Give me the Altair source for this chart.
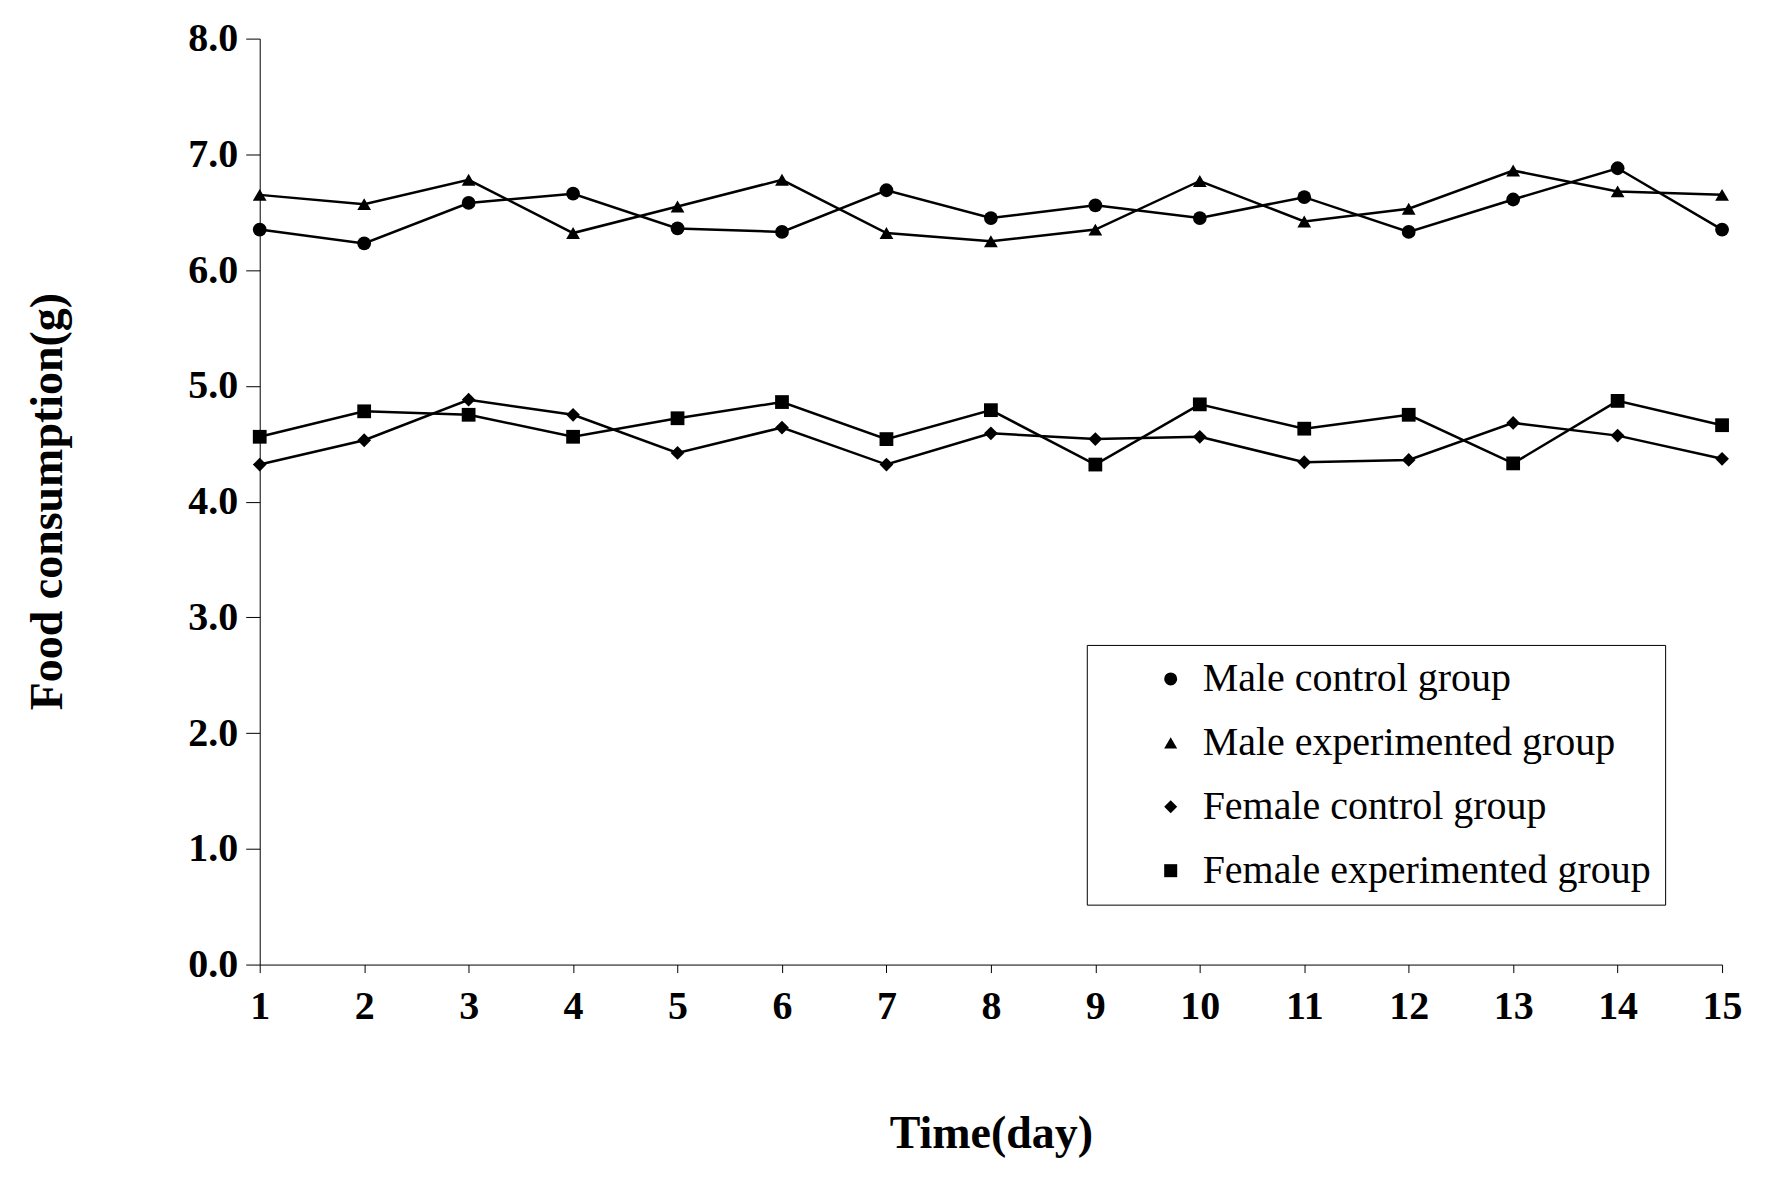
import altair as alt
import pandas as pd

days = list(range(1, 16))
male_control = [6.35, 6.23, 6.58, 6.66, 6.36, 6.33, 6.69, 6.45, 6.56, 6.45, 6.63, 6.33, 6.61, 6.88, 6.35]
male_exp = [6.65, 6.57, 6.78, 6.32, 6.55, 6.78, 6.32, 6.25, 6.35, 6.77, 6.42, 6.53, 6.86, 6.68, 6.65]
female_control = [4.32, 4.53, 4.88, 4.75, 4.42, 4.64, 4.32, 4.59, 4.54, 4.56, 4.34, 4.36, 4.68, 4.57, 4.37]
female_exp = [4.56, 4.78, 4.75, 4.56, 4.72, 4.86, 4.54, 4.79, 4.32, 4.84, 4.63, 4.75, 4.33, 4.87, 4.66]
groups = ["Male control group", "Male experimented group", "Female control group", "Female experimented group"]
shapes = ["circle", "triangle-up", "diamond", "square"]

rows = []
for g, vals in zip(groups, [male_control, male_exp, female_control, female_exp]):
    for d, v in zip(days, vals):
        rows.append({"day": d, "value": v, "group": g})
df = pd.DataFrame(rows)

x = alt.X("day:Q", scale=alt.Scale(domain=[1, 15], nice=False),
          axis=alt.Axis(title="Time(day)", values=days, grid=False, format="d", labelFlush=False,
                        labelFontSize=40, labelFontWeight="bold", labelFont="Liberation Serif",
                        titleFontSize=46, titleFontWeight="bold", titleFont="Liberation Serif",
                        titleY=169, titleBaseline="middle", labelPadding=14, tickSize=8,
                        domainColor="black", tickColor="black", labelColor="black", titleColor="black"))
y = alt.Y("value:Q", scale=alt.Scale(domain=[0, 8], nice=False),
          axis=alt.Axis(title="Food consumption(g)", values=[0, 1, 2, 3, 4, 5, 6, 7, 8], format=".1f", grid=False,
                        labelFontSize=40, labelFontWeight="bold", labelFont="Liberation Serif",
                        titleFontSize=46, titleFontWeight="bold", titleFont="Liberation Serif",
                        titleX=-212, titleY=463, titleBaseline="middle", labelPadding=8, tickSize=14,
                        domainColor="black", tickColor="black", labelColor="black", titleColor="black"))

lines = alt.Chart(df).mark_line(color="black", strokeWidth=2.5).encode(
    x=x, y=y, detail="group:N")
points = alt.Chart(df).mark_point(filled=True, color="black", size=190, opacity=1).encode(
    x=x, y=y,
    shape=alt.Shape("group:N", scale=alt.Scale(domain=groups, range=shapes),
                    legend=alt.Legend(title=None, orient="none", legendX=828, legendY=607,
                                      labelFontSize=40, labelFont="Liberation Serif", labelColor="black",
                                      strokeColor="black", padding=14, rowPadding=24,
                                      symbolFillColor="black", symbolStrokeColor="black",
                                      symbolSize=170, labelLimit=700, symbolOffset=50, labelOffset=12)))

chart = (lines + points).properties(
    width=1464, height=927,
    autosize=alt.AutoSizeParams(type="none"),
    padding={"left": 252, "top": 30, "right": 60, "bottom": 200},
).configure_view(stroke=None)

chart.save("out.html", embed_options={"renderer": "svg", "actions": False})
